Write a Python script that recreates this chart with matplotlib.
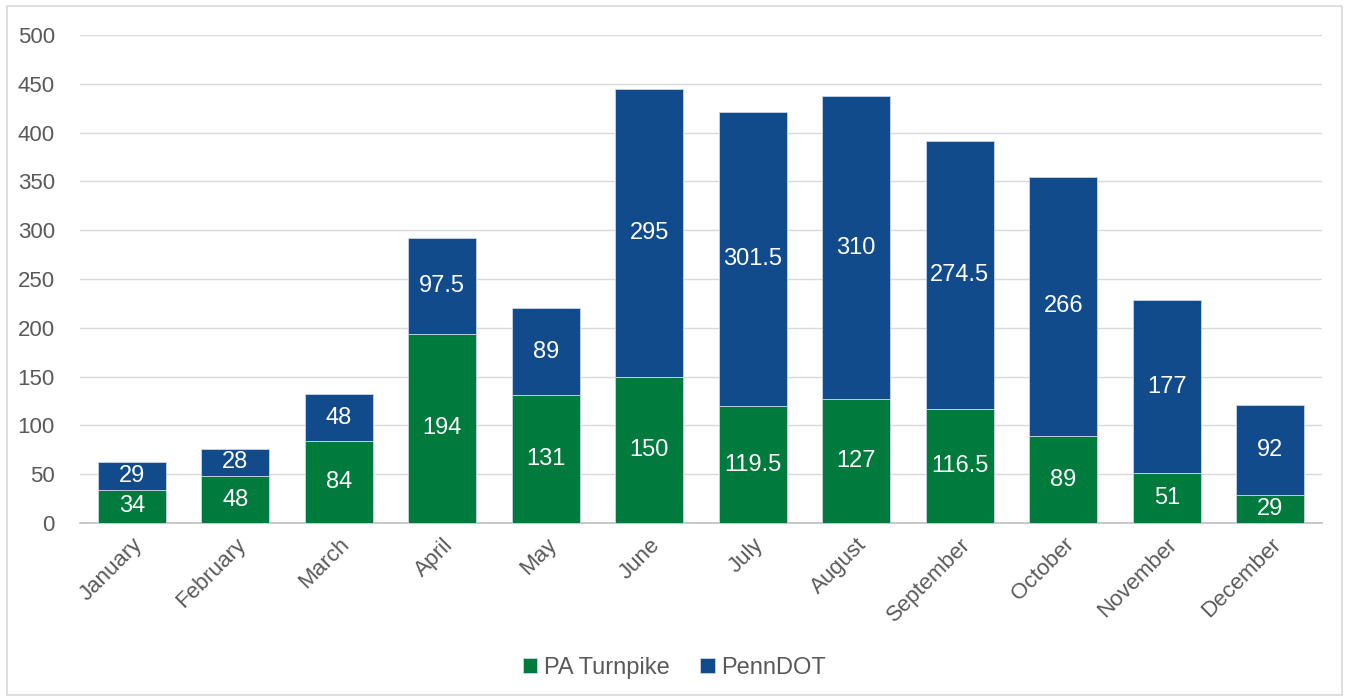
import numpy as np
import matplotlib.pyplot as plt
from matplotlib.patches import Rectangle

# Data ---------------------------------------------------------------------
months = ['January', 'February', 'March', 'April', 'May', 'June', 'July',
          'August', 'September', 'October', 'November', 'December']
pa_turnpike = [34, 48, 84, 194, 131, 150, 119.5, 127, 116.5, 89, 51, 29]
penndot = [29, 28, 48, 97.5, 89, 295, 301.5, 310, 274.5, 266, 177, 92]

green = '#007A3D'
blue = '#114B8B'
grey = '#595959'

plt.rcParams['font.family'] = ['Liberation Sans', 'DejaVu Sans']

fig = plt.figure(figsize=(13.49, 6.98), dpi=100)
ax = fig.add_axes([0.0593, 0.2507, 0.9207, 0.6992])

# outer border of the chart area
fig.patches.append(Rectangle((0.005, 0.004), 0.99, 0.987, transform=fig.transFigure,
                             fill=False, edgecolor='#D9D9D9', linewidth=1.2))

x = np.arange(len(months))
w = 0.66
b1 = ax.bar(x, pa_turnpike, w, color=green, edgecolor='#C9D6E3', linewidth=0.6,
            label='PA Turnpike', zorder=3)
b2 = ax.bar(x, penndot, w, bottom=pa_turnpike, color=blue, edgecolor='#C9D6E3',
            linewidth=0.6, label='PennDOT', zorder=3)

def fmt(v):
    return '{:g}'.format(v)

for i in range(len(months)):
    ax.text(x[i], pa_turnpike[i] / 2, fmt(pa_turnpike[i]), ha='center', va='center',
            color='white', fontsize=17, zorder=4)
    ax.text(x[i], pa_turnpike[i] + penndot[i] / 2, fmt(penndot[i]), ha='center',
            va='center', color='white', fontsize=17, zorder=4)

ax.set_xlim(-0.5, len(months) - 0.5)
ax.set_ylim(0, 500)
ax.set_yticks(np.arange(0, 501, 50))
ax.yaxis.grid(True, color='#D9D9D9', linewidth=1, zorder=0)
ax.set_axisbelow(True)
for s in ['top', 'right', 'left']:
    ax.spines[s].set_visible(False)
ax.spines['bottom'].set_color('#BFBFBF')
ax.spines['bottom'].set_linewidth(1.2)
ax.tick_params(axis='both', length=0, labelsize=16, colors=grey, pad=8)
ax.tick_params(axis='y', pad=18)
ax.set_xticks(x)
ax.set_xticklabels(months, rotation=45, ha='right', rotation_mode='anchor')

leg = fig.legend(handles=[b1, b2], loc='center', bbox_to_anchor=(0.5, 0.043), ncol=2,
                 frameon=False, fontsize=17, handlelength=0.6, handleheight=0.6,
                 handletextpad=0.3, columnspacing=1.3)
for t in leg.get_texts():
    t.set_color(grey)

fig.savefig('out.png', dpi=100)
